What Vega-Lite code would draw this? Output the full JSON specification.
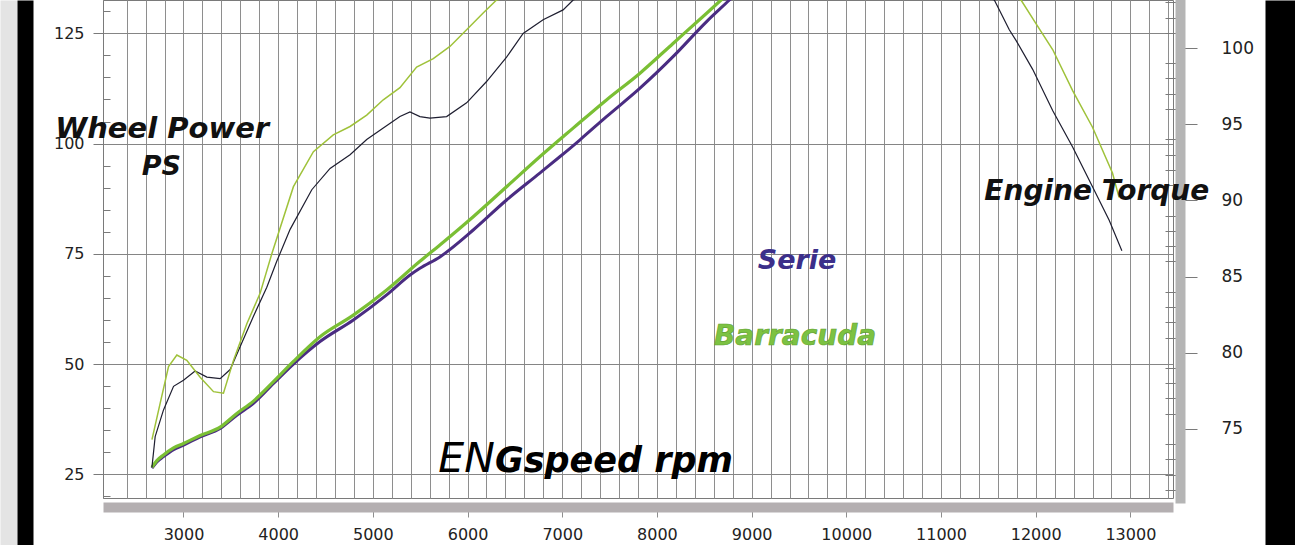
{
  "$schema": "https://vega.github.io/schema/vega-lite/v6.json",
  "width": 1070,
  "height": 498,
  "autosize": {"type": "none"},
  "padding": {"left": 103, "top": 0, "right": 122, "bottom": 47},
  "background": "#ffffff",
  "view": {"fill": "#ffffff", "stroke": "#7a7a7a", "strokeWidth": 1},
  "config": {"font": "DejaVu Sans"},
  "datasets": {
    "power": [
      {"rpm": 2667, "ps": 26.4, "series": "Serie"},
      {"rpm": 2719, "ps": 27.8, "series": "Serie"},
      {"rpm": 2789, "ps": 29.0, "series": "Serie"},
      {"rpm": 2895, "ps": 30.6, "series": "Serie"},
      {"rpm": 3000, "ps": 31.6, "series": "Serie"},
      {"rpm": 3176, "ps": 33.5, "series": "Serie"},
      {"rpm": 3387, "ps": 35.4, "series": "Serie"},
      {"rpm": 3563, "ps": 38.4, "series": "Serie"},
      {"rpm": 3739, "ps": 41.1, "series": "Serie"},
      {"rpm": 3950, "ps": 45.6, "series": "Serie"},
      {"rpm": 4161, "ps": 50.0, "series": "Serie"},
      {"rpm": 4442, "ps": 55.1, "series": "Serie"},
      {"rpm": 4794, "ps": 60.0, "series": "Serie"},
      {"rpm": 5146, "ps": 65.7, "series": "Serie"},
      {"rpm": 5400, "ps": 70.3, "series": "Serie"},
      {"rpm": 5497, "ps": 71.7, "series": "Serie"},
      {"rpm": 5708, "ps": 74.3, "series": "Serie"},
      {"rpm": 6060, "ps": 80.4, "series": "Serie"},
      {"rpm": 6412, "ps": 87.2, "series": "Serie"},
      {"rpm": 6763, "ps": 93.3, "series": "Serie"},
      {"rpm": 6974, "ps": 97.0, "series": "Serie"},
      {"rpm": 7185, "ps": 100.8, "series": "Serie"},
      {"rpm": 7467, "ps": 106.1, "series": "Serie"},
      {"rpm": 7818, "ps": 112.5, "series": "Serie"},
      {"rpm": 8170, "ps": 119.7, "series": "Serie"},
      {"rpm": 8522, "ps": 127.6, "series": "Serie"},
      {"rpm": 8768, "ps": 132.6, "series": "Serie"},
      {"rpm": 9000, "ps": 137.5, "series": "Serie"},
      {"rpm": 2667, "ps": 26.6, "series": "Barracuda"},
      {"rpm": 2719, "ps": 28.1, "series": "Barracuda"},
      {"rpm": 2789, "ps": 29.4, "series": "Barracuda"},
      {"rpm": 2895, "ps": 31.0, "series": "Barracuda"},
      {"rpm": 3000, "ps": 32.0, "series": "Barracuda"},
      {"rpm": 3176, "ps": 33.8, "series": "Barracuda"},
      {"rpm": 3387, "ps": 35.7, "series": "Barracuda"},
      {"rpm": 3563, "ps": 38.8, "series": "Barracuda"},
      {"rpm": 3739, "ps": 41.6, "series": "Barracuda"},
      {"rpm": 3950, "ps": 46.0, "series": "Barracuda"},
      {"rpm": 4161, "ps": 50.6, "series": "Barracuda"},
      {"rpm": 4442, "ps": 56.2, "series": "Barracuda"},
      {"rpm": 4794, "ps": 61.1, "series": "Barracuda"},
      {"rpm": 5146, "ps": 66.8, "series": "Barracuda"},
      {"rpm": 5497, "ps": 73.3, "series": "Barracuda"},
      {"rpm": 5708, "ps": 77.0, "series": "Barracuda"},
      {"rpm": 6060, "ps": 83.4, "series": "Barracuda"},
      {"rpm": 6412, "ps": 90.2, "series": "Barracuda"},
      {"rpm": 6763, "ps": 97.0, "series": "Barracuda"},
      {"rpm": 7115, "ps": 103.5, "series": "Barracuda"},
      {"rpm": 7467, "ps": 109.9, "series": "Barracuda"},
      {"rpm": 7818, "ps": 115.9, "series": "Barracuda"},
      {"rpm": 8170, "ps": 122.7, "series": "Barracuda"},
      {"rpm": 8522, "ps": 129.5, "series": "Barracuda"},
      {"rpm": 8680, "ps": 132.6, "series": "Barracuda"},
      {"rpm": 8900, "ps": 137.0, "series": "Barracuda"}
    ],
    "torque": [
      {"rpm": 2667, "torque": 72.5, "series": "Serie"},
      {"rpm": 2701, "torque": 74.5, "series": "Serie"},
      {"rpm": 2789, "torque": 76.25, "series": "Serie"},
      {"rpm": 2895, "torque": 77.8, "series": "Serie"},
      {"rpm": 3000, "torque": 78.2, "series": "Serie"},
      {"rpm": 3123, "torque": 78.8, "series": "Serie"},
      {"rpm": 3247, "torque": 78.4, "series": "Serie"},
      {"rpm": 3387, "torque": 78.3, "series": "Serie"},
      {"rpm": 3493, "torque": 78.9, "series": "Serie"},
      {"rpm": 3598, "torque": 80.4, "series": "Serie"},
      {"rpm": 3739, "torque": 82.4, "series": "Serie"},
      {"rpm": 3880, "torque": 84.3, "series": "Serie"},
      {"rpm": 3985, "torque": 86.0, "series": "Serie"},
      {"rpm": 4126, "torque": 88.1, "series": "Serie"},
      {"rpm": 4355, "torque": 90.7, "series": "Serie"},
      {"rpm": 4548, "torque": 92.1, "series": "Serie"},
      {"rpm": 4759, "torque": 93.0, "series": "Serie"},
      {"rpm": 4935, "torque": 94.0, "series": "Serie"},
      {"rpm": 5110, "torque": 94.75, "series": "Serie"},
      {"rpm": 5286, "torque": 95.5, "series": "Serie"},
      {"rpm": 5392, "torque": 95.8, "series": "Serie"},
      {"rpm": 5497, "torque": 95.5, "series": "Serie"},
      {"rpm": 5603, "torque": 95.4, "series": "Serie"},
      {"rpm": 5779, "torque": 95.5, "series": "Serie"},
      {"rpm": 5990, "torque": 96.4, "series": "Serie"},
      {"rpm": 6201, "torque": 97.8, "series": "Serie"},
      {"rpm": 6412, "torque": 99.4, "series": "Serie"},
      {"rpm": 6587, "torque": 100.95, "series": "Serie"},
      {"rpm": 6798, "torque": 101.85, "series": "Serie"},
      {"rpm": 7009, "torque": 102.5, "series": "Serie"},
      {"rpm": 7115, "torque": 103.15, "series": "Serie"},
      {"rpm": 9300, "torque": 107.5, "series": "Serie"},
      {"rpm": 11563, "torque": 103.15, "series": "Serie"},
      {"rpm": 11721, "torque": 101.2, "series": "Serie"},
      {"rpm": 11792, "torque": 100.5, "series": "Serie"},
      {"rpm": 11968, "torque": 98.6, "series": "Serie"},
      {"rpm": 12179, "torque": 95.9, "series": "Serie"},
      {"rpm": 12390, "torque": 93.5, "series": "Serie"},
      {"rpm": 12600, "torque": 90.9, "series": "Serie"},
      {"rpm": 12776, "torque": 88.7, "series": "Serie"},
      {"rpm": 12910, "torque": 86.7, "series": "Serie"},
      {"rpm": 2667, "torque": 74.3, "series": "Barracuda"},
      {"rpm": 2754, "torque": 76.7, "series": "Barracuda"},
      {"rpm": 2842, "torque": 79.1, "series": "Barracuda"},
      {"rpm": 2930, "torque": 79.85, "series": "Barracuda"},
      {"rpm": 3035, "torque": 79.5, "series": "Barracuda"},
      {"rpm": 3176, "torque": 78.4, "series": "Barracuda"},
      {"rpm": 3317, "torque": 77.45, "series": "Barracuda"},
      {"rpm": 3422, "torque": 77.35, "series": "Barracuda"},
      {"rpm": 3528, "torque": 79.5, "series": "Barracuda"},
      {"rpm": 3669, "torque": 81.9, "series": "Barracuda"},
      {"rpm": 3809, "torque": 83.9, "series": "Barracuda"},
      {"rpm": 3933, "torque": 86.5, "series": "Barracuda"},
      {"rpm": 4161, "torque": 90.9, "series": "Barracuda"},
      {"rpm": 4372, "torque": 93.2, "series": "Barracuda"},
      {"rpm": 4582, "torque": 94.3, "series": "Barracuda"},
      {"rpm": 4759, "torque": 94.85, "series": "Barracuda"},
      {"rpm": 4935, "torque": 95.6, "series": "Barracuda"},
      {"rpm": 5110, "torque": 96.6, "series": "Barracuda"},
      {"rpm": 5286, "torque": 97.4, "series": "Barracuda"},
      {"rpm": 5462, "torque": 98.75, "series": "Barracuda"},
      {"rpm": 5638, "torque": 99.3, "series": "Barracuda"},
      {"rpm": 5814, "torque": 100.1, "series": "Barracuda"},
      {"rpm": 5990, "torque": 101.2, "series": "Barracuda"},
      {"rpm": 6165, "torque": 102.3, "series": "Barracuda"},
      {"rpm": 6306, "torque": 103.15, "series": "Barracuda"},
      {"rpm": 9500, "torque": 108.0, "series": "Barracuda"},
      {"rpm": 11845, "torque": 103.15, "series": "Barracuda"},
      {"rpm": 12003, "torque": 101.6, "series": "Barracuda"},
      {"rpm": 12179, "torque": 99.9, "series": "Barracuda"},
      {"rpm": 12390, "torque": 97.2, "series": "Barracuda"},
      {"rpm": 12600, "torque": 94.8, "series": "Barracuda"},
      {"rpm": 12811, "torque": 91.8, "series": "Barracuda"},
      {"rpm": 12880, "torque": 90.2, "series": "Barracuda"}
    ]
  },
  "layer": [
    {
      "data": {"values": [{"v": 0}]},
      "mark": {"type": "rule", "opacity": 0},
      "encoding": {
        "y": {"field": "v", "type": "quantitative", "scale": {"domain": [0, 1], "range": [545, 0]},
          "axis": {"orient": "left", "offset": 94.5, "domain": true, "domainColor": "#e4e4e4", "domainWidth": 17, "domainCap": "butt", "ticks": false, "labels": false, "grid": false, "title": null}}
      }
    },
    {
      "data": {"values": [{"v": 0}]},
      "mark": {"type": "rule", "opacity": 0},
      "encoding": {
        "y": {"field": "v", "type": "quantitative", "scale": {"domain": [0, 1], "range": [545, 0]},
          "axis": {"orient": "left", "offset": 78, "domain": true, "domainColor": "#000000", "domainWidth": 16, "domainCap": "butt", "ticks": false, "labels": false, "grid": false, "title": null}}
      }
    },
    {
      "data": {"values": [{"v": 0}]},
      "mark": {"type": "rule", "opacity": 0},
      "encoding": {
        "y": {"field": "v", "type": "quantitative", "scale": {"domain": [0, 1], "range": [545, 0]},
          "axis": {"orient": "right", "offset": 107, "domain": true, "domainColor": "#000000", "domainWidth": 30, "domainCap": "butt", "ticks": false, "labels": false, "grid": false, "title": null}}
      }
    },
    {
      "data": {"name": "power"},
      "encoding": {
        "x": {"field": "rpm", "type": "quantitative",
          "scale": {"domain": [2150, 13450], "nice": false, "zero": false},
          "axis": {
            "orient": "bottom", "offset": 9, "title": null, "tickCount": 500,
            "values": [2400,2600,2800,3000,3200,3400,3600,3800,4000,4200,4400,4600,4800,5000,5200,5400,5600,5800,6000,6200,6400,6600,6800,7000,7200,7400,7600,7800,8000,8200,8400,8600,8800,9000,9200,9400,9600,9800,10000,10200,10400,10600,10800,11000,11200,11400,11600,11800,12000,12200,12400,12600,12800,13000,13200,13400],
            "domain": true, "domainColor": "#b4afb1", "domainWidth": 10, "domainCap": "butt",
            "grid": true, "gridColor": "#8e8e8e", "gridWidth": 1,
            "ticks": true, "tickSize": 10, "tickColor": "#8e8e8e",
            "tickOpacity": {"condition": {"test": "datum.value % 1000 === 0", "value": 1}, "value": 0},
            "labelExpr": "datum.value % 1000 === 0 ? format(datum.value, 'd') : ''",
            "labelFont": "DejaVu Sans", "labelFontSize": 16, "labelColor": "#222222", "labelPadding": 9,
            "labelOverlap": false, "labelFlush": false, "labelBound": false
          }
        },
        "y": {"field": "ps", "type": "quantitative",
          "scale": {"domain": [19.63, 132.55], "nice": false, "zero": false},
          "axis": {
            "orient": "left", "offset": 0, "title": null, "tickCount": 500,
            "values": [20,25,30,35,40,45,50,55,60,65,70,75,80,85,90,95,100,105,110,115,120,125,130],
            "domain": true, "domainColor": "#7a7a7a", "domainWidth": 1,
            "grid": true, "gridColor": "#858585", "gridWidth": 1,
            "gridOpacity": {"condition": {"test": "datum.value % 25 === 0", "value": 1}, "value": 0},
            "ticks": true, "tickColor": "#7a7a7a",
            "tickSize": {"condition": {"test": "datum.value % 25 === 0", "value": 10}, "value": -7},
            "labelExpr": "datum.value % 25 === 0 ? format(datum.value, 'd') : ''",
            "labelFont": "DejaVu Sans", "labelFontSize": 16, "labelColor": "#222222", "labelPadding": 9,
            "labelOverlap": false, "labelFlush": false, "labelBound": false
          }
        }
      },
      "layer": [
        {
          "transform": [{"filter": "datum.series === 'Serie'"}],
          "mark": {"type": "line", "color": "#4a2c82", "strokeWidth": 3, "clip": true, "interpolate": "monotone"}
        },
        {
          "transform": [{"filter": "datum.series === 'Barracuda'"}],
          "mark": {"type": "line", "color": "#7abf34", "strokeWidth": 3.2, "clip": true, "interpolate": "monotone"}
        }
      ]
    },
    {
      "layer": [
        {
          "data": {"name": "torque"},
          "encoding": {
            "x": {"field": "rpm", "type": "quantitative", "scale": {"domain": [2150, 13450], "nice": false, "zero": false}},
            "y": {"field": "torque", "type": "quantitative",
              "scale": {"domain": [70.47, 103.15], "nice": false, "zero": false},
              "axis": {
                "orient": "right", "offset": 7, "title": null, "tickCount": 500,
                "values": [71,72,73,74,75,76,77,78,79,80,81,82,83,84,85,86,87,88,89,90,91,92,93,94,95,96,97,98,99,100,101,102,103],
                "domain": true, "domainColor": "#b5b5b5", "domainWidth": 10, "domainCap": "square",
                "grid": false,
                "ticks": true, "tickColor": "#7a7a7a",
                "tickSize": {"condition": {"test": "datum.value % 5 === 0", "value": 17}, "value": -15},
                "labelExpr": "datum.value % 5 === 0 ? format(datum.value, 'd') : ''",
                "labelFont": "DejaVu Sans", "labelFontSize": 17, "labelColor": "#222222", "labelPadding": 24,
                "labelOverlap": false, "labelFlush": false, "labelBound": false
              }
            }
          },
          "layer": [
            {
              "transform": [{"filter": "datum.series === 'Serie'"}],
              "mark": {"type": "line", "color": "#1e1e30", "strokeWidth": 1.2, "clip": true}
            },
            {
              "transform": [{"filter": "datum.series === 'Barracuda'"}],
              "mark": {"type": "line", "color": "#9fc23a", "strokeWidth": 1.5, "clip": true}
            }
          ]
        },
        {
          "data": {"values": [{"label": "Wheel Power"}]},
          "mark": {"type": "text", "font": "DejaVu Sans", "fontSize": 29, "fontWeight": "bold", "fontStyle": "italic", "color": "#111111", "align": "center", "baseline": "alphabetic"},
          "encoding": {"x": {"datum": 2775, "type": "quantitative"}, "y": {"datum": 94.09, "type": "quantitative"}, "text": {"field": "label"}}
        },
        {
          "data": {"values": [{"label": "PS"}]},
          "mark": {"type": "text", "font": "DejaVu Sans", "fontSize": 27, "fontWeight": "bold", "fontStyle": "italic", "color": "#111111", "align": "center", "baseline": "alphabetic"},
          "encoding": {"x": {"datum": 2765, "type": "quantitative"}, "y": {"datum": 91.67, "type": "quantitative"}, "text": {"field": "label"}}
        },
        {
          "data": {"values": [{"label": "Engine Torque"}]},
          "mark": {"type": "text", "font": "DejaVu Sans", "fontSize": 28, "fontWeight": "bold", "fontStyle": "italic", "color": "#111111", "align": "center", "baseline": "alphabetic"},
          "encoding": {"x": {"datum": 12645, "type": "quantitative"}, "y": {"datum": 90.03, "type": "quantitative"}, "text": {"field": "label"}}
        },
        {
          "data": {"values": [{"label": "Serie"}]},
          "mark": {"type": "text", "font": "DejaVu Sans", "fontSize": 27, "fontWeight": "bold", "fontStyle": "italic", "color": "#3c2f8a", "align": "center", "baseline": "alphabetic"},
          "encoding": {"x": {"datum": 9480, "type": "quantitative"}, "y": {"datum": 85.48, "type": "quantitative"}, "text": {"field": "label"}}
        },
        {
          "data": {"values": [{"label": "Barracuda"}]},
          "mark": {"type": "text", "font": "DejaVu Sans", "fontSize": 28, "fontWeight": "bold", "fontStyle": "italic", "color": "#7cc242", "stroke": "#5e9f2e", "strokeWidth": 0.6, "align": "center", "baseline": "alphabetic"},
          "encoding": {"x": {"datum": 9459, "type": "quantitative"}, "y": {"datum": 80.51, "type": "quantitative"}, "text": {"field": "label"}}
        },
        {
          "data": {"values": [{"label": "EN"}]},
          "mark": {"type": "text", "font": "DejaVu Sans", "fontSize": 41, "fontWeight": "normal", "fontStyle": "italic", "color": "#000000", "align": "right", "baseline": "alphabetic"},
          "encoding": {"x": {"datum": 6289, "type": "quantitative"}, "y": {"datum": 72.2, "type": "quantitative"}, "text": {"field": "label"}}
        },
        {
          "data": {"values": [{"label": "Gspeed rpm"}]},
          "mark": {"type": "text", "font": "DejaVu Sans", "fontSize": 35, "fontWeight": "bold", "fontStyle": "italic", "color": "#000000", "align": "left", "baseline": "alphabetic"},
          "encoding": {"x": {"datum": 6289, "type": "quantitative"}, "y": {"datum": 72.2, "type": "quantitative"}, "text": {"field": "label"}}
        }
      ]
    }
  ],
  "resolve": {"scale": {"y": "independent"}, "axis": {"y": "independent"}}
}
